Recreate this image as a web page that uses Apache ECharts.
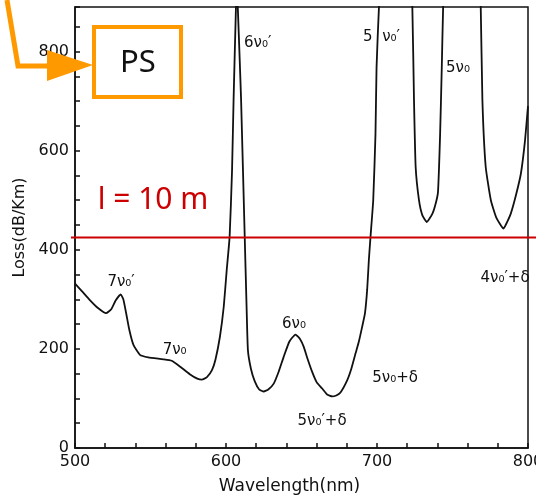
<!DOCTYPE html>
<html>
<head>
<meta charset="utf-8">
<script src="https://cdn.jsdelivr.net/npm/echarts@6/dist/echarts.min.js"></script>
<style>
  html, body { margin: 0; padding: 0; background: #fff; }
  #chart { width: 536px; height: 498px; }
</style>
</head>
<body>
<div id="chart"></div>
<script>
// wavelength (nm) and loss (dB/km);
// points above 890 run off the top of the frame and get clipped
const wavelength = [
    500, 505, 510, 515, 520.6, 524, 527, 530.3, 532, 534, 536, 538.7, 543, 548.5,
    558.5, 564, 569.7, 576, 581, 584, 587.4, 590.7, 593, 596, 598.5, 600.5, 602.4,
    604, 605, 606.6, 607.2, 607.8, 609, 610, 612.4, 613.5, 614.5, 616.5, 619, 622,
    625, 628, 631.6, 635, 638.2, 642, 646, 649, 651.5, 654, 657, 660, 663.7, 667,
    670.3, 673, 675.8, 680.3, 683, 685.8, 688, 690.2, 692, 693.5, 694.6, 695.7,
    697.5, 699, 699.7, 701.3, 702, 722.5, 723.4, 724.5, 725.6, 727.8, 730, 733,
    736.7, 739, 740.4, 741.8, 742.9, 743.8, 744.5, 768, 768.7, 769.8, 772, 775.4,
    779, 783.8, 786, 788.6, 792, 795.3, 798, 800
];
const loss = [
    332, 315, 298, 283, 272, 280, 298, 310, 300, 270, 238, 208, 188, 183,
    179, 176, 164, 149, 140, 138, 143, 157, 178, 225, 285, 360, 426,
    560, 700, 890, 930, 890, 790, 702, 426, 300, 198, 160, 135, 118,
    114, 118, 130, 155, 184, 215, 229, 220, 204, 180, 154, 133, 120, 108,
    104, 106, 112, 137, 160, 191, 215, 245, 271, 320, 379, 426,
    500, 634, 768, 890, 905, 905, 890, 702, 567, 500, 470, 456,
    473, 495, 517, 634, 768, 890, 905, 905, 890, 702, 567, 500,
    465, 443, 455, 473, 510, 554, 620, 690
];

// peak labels written on the figure
const peakNames = ['6ν₀′', '5  ν₀′', '5ν₀', '7ν₀′', '7ν₀', '6ν₀', '5ν₀+δ', '5ν₀′+δ', '4ν₀′+δ'];
const peakAt = [
    [621, 818], [703, 830], [753.6, 766], [530.5, 335], [566, 198],
    [645, 250], [712, 141], [663.6, 54], [784.8, 343]
];

const fiberLevel = 425; // red line, l = 10 m
const xTicks = [500, 600, 700, 800];
const yTicks = [0, 200, 400, 600, 800];

const chart = echarts.init(document.getElementById('chart'));
const font = 'DejaVu Sans';

const option = {
    animation: false,
    backgroundColor: '#fff',
    grid: {
        left: 75,
        right: 8,
        top: 7,
        bottom: 50,
        outerBoundsMode: 'none',
        containLabel: false,
        show: true,
        borderColor: '#111',
        borderWidth: 1.5,
    },
    xAxis: {
        type: 'value',
        min: 500,
        max: 800,
        interval: 20,
        name: 'Wavelength(nm)',
        nameLocation: 'middle',
        nameGap: 30,
        nameTextStyle: { fontFamily: font, fontSize: 17, color: '#111', padding: [0, 24, 0, 0] },
        axisLine: { lineStyle: { color: '#111', width: 1.5 } },
        axisTick: { inside: true, length: 5, lineStyle: { color: '#111', width: 1.5 } },
        axisLabel: {
            fontFamily: font, fontSize: 16, color: '#111', margin: 6,
            formatter: v => xTicks.includes(v) ? String(v) : '',
        },
        splitLine: { show: false },
    },
    yAxis: {
        type: 'value',
        min: 0,
        max: 890,
        interval: 50,
        name: 'Loss(dB/Km)',
        nameLocation: 'middle',
        nameGap: 46,
        nameTextStyle: { fontFamily: font, fontSize: 16, color: '#111' },
        axisLine: { show: true, lineStyle: { color: '#111', width: 1.5 } },
        axisTick: { show: true, inside: true, length: 5, lineStyle: { color: '#111', width: 1.5 } },
        axisLabel: {
            fontFamily: font, fontSize: 16, color: '#111', margin: 6,
            formatter: v => yTicks.includes(v) ? String(v) : '',
        },
        splitLine: { show: false },
    },
    series: [
        {
            type: 'line',
            data: wavelength.map((w, i) => [w, loss[i]]),
            showSymbol: false,
            smooth: 0.15,
            clip: true,
            lineStyle: { color: '#111', width: 1.8 },
            silent: true,
        },
        {
            type: 'scatter',
            data: peakAt.map((p, i) => ({ value: p, name: peakNames[i] })),
            symbolSize: 0,
            itemStyle: { color: '#111', opacity: 1 },
            silent: true,
            label: {
                show: true,
                position: 'inside',
                formatter: p => p.name,
                fontFamily: font,
                fontSize: 15,
                color: '#111',
            },
        },
    ],
};
chart.setOption(option);

// overlays drawn on top of the scan: red level line, PS box and arrow
const lineY = chart.convertToPixel({ gridIndex: 0 }, [500, fiberLevel])[1];
chart.setOption({
    graphic: [
        {
            type: 'line',
            shape: { x1: 71, y1: lineY, x2: 536, y2: lineY },
            style: { stroke: '#cc0000', lineWidth: 2 },
            z: 100,
        },
        {
            type: 'text',
            x: 153,
            y: 200,
            style: {
                text: 'l = 10 m',
                fill: '#cc0000',
                font: '30px "Noto Sans"',
                align: 'center',
                verticalAlign: 'middle',
            },
            z: 100,
        },
        {
            type: 'rect',
            shape: { x: 94, y: 27, width: 87, height: 70 },
            style: { fill: '#fff', stroke: '#ff9900', lineWidth: 4 },
            z: 100,
        },
        {
            type: 'text',
            x: 138,
            y: 63,
            style: {
                text: 'PS',
                fill: '#111',
                font: '31px "Noto Sans"',
                align: 'center',
                verticalAlign: 'middle',
            },
            z: 101,
        },
        {
            type: 'polyline',
            shape: { points: [[7, 0], [18, 66], [52, 66]] },
            style: { stroke: '#ff9900', lineWidth: 5, fill: null },
            z: 100,
        },
        {
            type: 'polygon',
            shape: { points: [[47, 50], [93, 65], [47, 81]] },
            style: { fill: '#ff9900' },
            z: 100,
        },
    ],
});
</script>
</body>
</html>
